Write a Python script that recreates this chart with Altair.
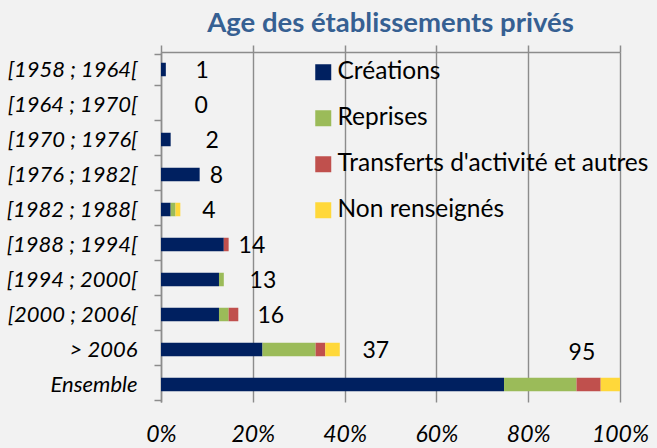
import altair as alt
import pandas as pd

categories = ["[1958 ; 1964[", "[1964 ; 1970[", "[1970 ; 1976[", "[1976 ; 1982[",
              "[1982 ; 1988[", "[1988 ; 1994[", "[1994 ; 2000[", "[2000 ; 2006[",
              "> 2006", "Ensemble"]
series = ["Créations", "Reprises", "Transferts d'activité et autres", "Non renseignés"]
creations = [1, 0, 2, 8, 2, 13, 12, 12, 21, 71]
reprises = [0, 0, 0, 0, 1, 0, 1, 2, 11, 15]
transferts = [0, 0, 0, 0, 0, 1, 0, 2, 2, 5]
non_renseignes = [0, 0, 0, 0, 1, 0, 0, 0, 3, 4]
totals = [1, 0, 2, 8, 4, 14, 13, 16, 37, 95]
label_x = [7.5, 7.3, 9.7, 10.6, 9.0, 16.9, 19.3, 21.0, 43.9, 88.8]
x_ticks = [0, 20, 40, 60, 80, 100]
colors = ["#002060", "#9bbb59", "#c0504d", "#ffd83a"]

FONT = "Lato"
GRID = "#8c8c8c"
grand_total = totals[-1]

rows = []
for i, cat in enumerate(categories):
    for k, (name, vals) in enumerate(zip(series, [creations, reprises, transferts, non_renseignes])):
        rows.append({"cat": cat, "serie": name, "ordre": k,
                     "pct": vals[i] / grand_total * 100})
bars_df = pd.DataFrame(rows)
labels_df = pd.DataFrame({"cat": categories, "total": totals, "lx": label_x})

y_enc = alt.Y("cat:N", sort=categories, title=None,
              axis=alt.Axis(tickBand="extent", tickSize=7, tickColor=GRID, tickWidth=1.5,
                            domainColor=GRID, domainWidth=1.5, labelFont=FONT,
                            labelFontStyle="italic", labelFontSize=22, labelColor="black",
                            labelPadding=17, grid=False))
x_scale = alt.Scale(domain=[0, 100], nice=False)

bars = alt.Chart(bars_df).mark_bar(size=13.5).encode(
    x=alt.X("pct:Q", stack="zero", scale=x_scale, title=None,
            axis=alt.Axis(orient="bottom", values=x_ticks, labelExpr="datum.value + '%'",
                          ticks=False, domain=False, grid=True, gridColor=GRID,
                          gridWidth=1.4, labelFont=FONT, labelFontStyle="italic",
                          labelFontSize=23, labelColor="black", labelPadding=21,
                          labelFlush=False, labelOverlap=False)),
    y=y_enc,
    color=alt.Color("serie:N", sort=series,
                    scale=alt.Scale(domain=series, range=colors),
                    legend=alt.Legend(title=None, orient="none", legendX=150, legendY=8,
                                      padding=0, symbolType="square", symbolSize=256,
                                      symbolStrokeWidth=0, labelFont=FONT,
                                      labelFontSize=24.5, labelColor="black",
                                      labelLimit=0, rowPadding=21, labelOffset=2)),
    order=alt.Order("ordre:Q"),
)

text_main = alt.Chart(labels_df[labels_df["cat"] != "Ensemble"]).mark_text(
    align="left", baseline="middle", font=FONT, fontSize=23, color="black", dy=1
).encode(
    x=alt.X("lx:Q", scale=x_scale, title=None,
            axis=alt.Axis(orient="top", values=x_ticks, labels=False, ticks=True,
                          tickSize=7, tickColor=GRID, tickWidth=1.5, domain=True,
                          domainColor=GRID, domainWidth=1.5, grid=False)),
    y=alt.Y("cat:N", sort=categories),
    text="total:Q",
)

text_ens = alt.Chart(labels_df[labels_df["cat"] == "Ensemble"]).mark_text(
    align="left", baseline="middle", font=FONT, fontSize=23, color="black", dy=-32
).encode(
    x=alt.X("lx:Q", scale=x_scale, axis=None),
    y=alt.Y("cat:N", sort=categories),
    text="total:Q",
)

chart = alt.layer(bars, text_main, text_ens).resolve_axis(x="independent").properties(
    width=459, height=350,
    autosize=alt.AutoSizeParams(type="none"),
    padding={"left": 161, "top": 52, "right": 37, "bottom": 46},
    background="#f2f2f2",
    title=alt.TitleParams("Age des établissements privés", font=FONT, fontSize=27.5,
                          fontWeight="bold", color="#366092", anchor="middle",
                          baseline="alphabetic", offset=-18),
).configure_view(stroke=None)

chart.save("out.html", embed_options={"renderer": "svg", "actions": False})
